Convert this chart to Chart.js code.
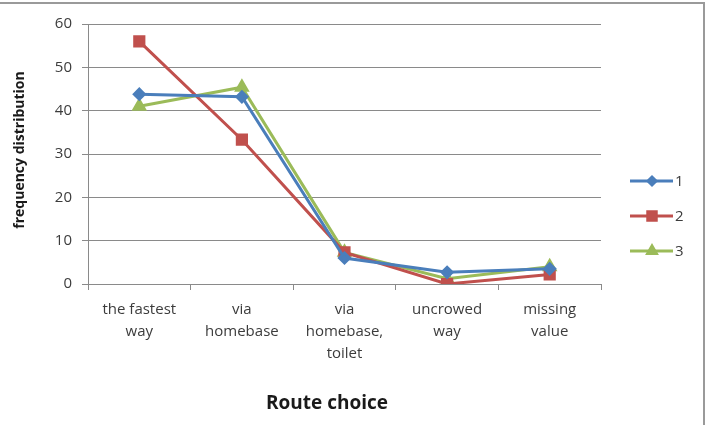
<!DOCTYPE html>
<html>
<head>
<meta charset="utf-8">
<script src="https://cdn.jsdelivr.net/npm/chart.js@4/dist/chart.umd.min.js"></script>
<style>
  html, body { margin: 0; padding: 0; background: #fff; }
  #wrap { width: 711px; height: 425px; position: relative; }
</style>
</head>
<body>
<div id="wrap"><canvas id="routeChart" width="711" height="425"></canvas></div>
<script>
// categories and series values
const routeLabels = [
    ['the fastest', 'way'],
    ['via', 'homebase'],
    ['via', 'homebase,', 'toilet'],
    ['uncrowed', 'way'],
    ['missing', 'value']
];
const series1 = [43.8, 43.2, 6, 2.7, 3.5];
const series2 = [56, 33.3, 7.3, 0, 2.2];
const series3 = [41, 45.4, 7.3, 1.2, 4];
const seriesNames = ['1', '2', '3'];
const yTicks = [0, 10, 20, 30, 40, 50, 60];

const colors = ['#4A7EBB', '#C0504D', '#9BBB59'];
const markers = ['rectRot', 'rect', 'triangle'];
const markerSize = [5, 6.5, 6];
const legendMarkerSize = [4, 6, 5];
const textColor = '#3c3c3c';

// legend drawn as line + marker like the Excel legend, plus axis titles and frame
const extrasPlugin = {
    id: 'extras',
    afterDraw(chart) {
        const ctx = chart.ctx;
        ctx.save();

        // frame
        ctx.strokeStyle = '#9a9a9a';
        ctx.lineWidth = 2;
        ctx.beginPath();
        ctx.moveTo(0, 3);
        ctx.lineTo(704, 3);
        ctx.lineTo(704, 425);
        ctx.stroke();

        // legend
        chart.data.datasets.forEach((ds, i) => {
            const y = 181 + i * 35;
            ctx.strokeStyle = ds.borderColor;
            ctx.lineWidth = 3;
            ctx.beginPath();
            ctx.moveTo(630, y);
            ctx.lineTo(673, y);
            ctx.stroke();
            Chart.helpers.drawPoint(ctx, {
                pointStyle: ds.pointStyle,
                radius: legendMarkerSize[i],
                borderWidth: 1,
                rotation: 0
            }, 652, y);
            ctx.fillStyle = ds.borderColor;
            ctx.fill();
            ctx.fillStyle = textColor;
            ctx.font = '15px "Open Sans"';
            ctx.textAlign = 'left';
            ctx.textBaseline = 'middle';
            ctx.fillText(seriesNames[i], 675, y + 1);
        });

        // y title
        ctx.fillStyle = '#1a1a1a';
        ctx.font = 'bold 14px "Open Sans"';
        ctx.textAlign = 'center';
        ctx.textBaseline = 'middle';
        ctx.translate(20, 150);
        ctx.rotate(-Math.PI / 2);
        ctx.fillText('frequency distribution', 0, 0);
        ctx.restore();

        // x title
        ctx.save();
        ctx.fillStyle = '#1a1a1a';
        ctx.font = 'bold 19px "Open Sans"';
        ctx.textAlign = 'center';
        ctx.textBaseline = 'middle';
        ctx.fillText('Route choice', 327, 404);
        ctx.restore();
    }
};

const datasets = [series1, series2, series3].map((vals, i) => ({
    label: seriesNames[i],
    data: vals,
    borderColor: colors[i],
    backgroundColor: colors[i],
    pointBackgroundColor: colors[i],
    pointBorderColor: colors[i],
    pointStyle: markers[i],
    pointRadius: markerSize[i],
    pointHoverRadius: markerSize[i],
    borderWidth: 3,
    tension: 0
}));

const routeChart = new Chart(document.getElementById('routeChart').getContext('2d'), {
    type: 'line',
    data: { labels: routeLabels, datasets: datasets },
    options: {
        responsive: false,
        animation: false,
        layout: { padding: { left: 0, top: 24, right: 110, bottom: 0 } },
        plugins: {
            legend: { display: false },
            tooltip: { enabled: false }
        },
        scales: {
            x: {
                offset: true,
                afterFit: s => { s.height = 141; },
                grid: {
                    offset: true,
                    drawOnChartArea: false,
                    color: '#8a8a8a',
                    tickLength: 6
                },
                border: { color: '#8a8a8a', width: 1 },
                ticks: {
                    color: textColor,
                    font: { family: 'Open Sans', size: 15, lineHeight: '22px' },
                    padding: 9,
                    maxRotation: 0,
                    autoSkip: false
                }
            },
            y: {
                min: 0,
                max: 60,
                afterFit: s => { s.width = 88; },
                afterBuildTicks: s => { s.ticks = yTicks.map(v => ({ value: v })); },
                grid: { color: '#8a8a8a', tickLength: 6 },
                border: { color: '#8a8a8a', width: 1 },
                ticks: {
                    color: textColor,
                    font: { family: 'Open Sans', size: 15 },
                    padding: 10
                }
            }
        }
    },
    plugins: [extrasPlugin]
});
</script>
</body>
</html>
